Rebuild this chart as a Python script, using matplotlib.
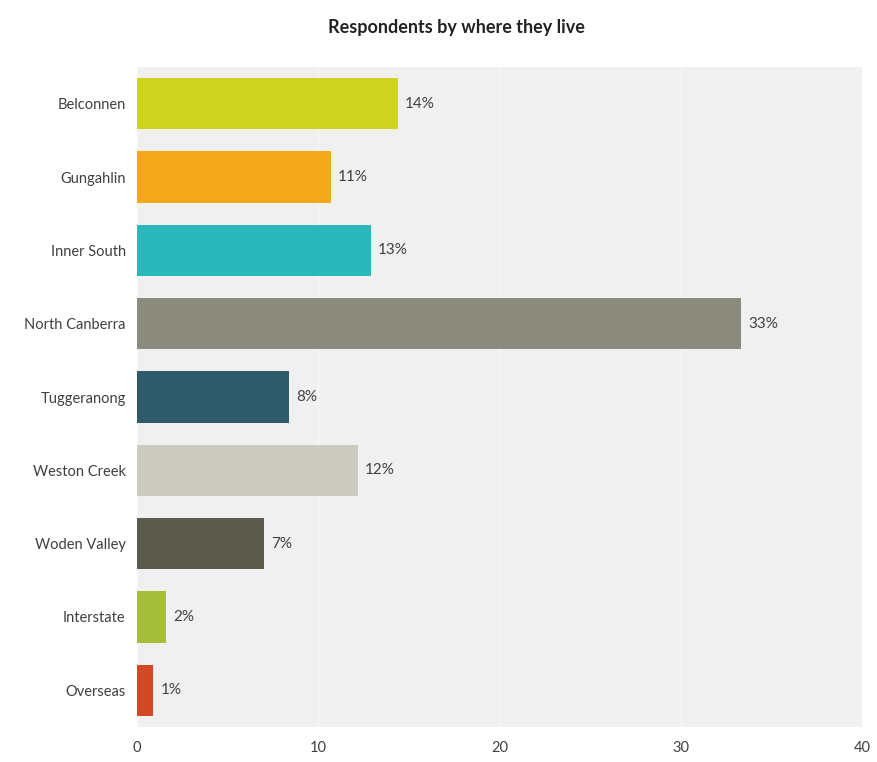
import matplotlib
matplotlib.use('Agg')
import matplotlib.pyplot as plt

plt.rcParams['font.family'] = ['Lato', 'DejaVu Sans']

# Data
regions = ['Belconnen', 'Gungahlin', 'Inner South', 'North Canberra', 'Tuggeranong',
           'Weston Creek', 'Woden Valley', 'Interstate', 'Overseas']
values = [14.4, 10.7, 12.9, 33.3, 8.4, 12.2, 7.0, 1.6, 0.9]
value_labels = ['14%', '11%', '13%', '33%', '8%', '12%', '7%', '2%', '1%']
colors = ['#cdd31f', '#f5a81c', '#2bb8bb', '#8a8b7c', '#2e5a6b',
          '#cdcbbf', '#5a5a4d', '#a5be3a', '#d24a25']

fig = plt.figure(figsize=(8.77, 7.62), dpi=100)
ax = fig.add_axes([0.156, 0.046, 0.827, 0.866])
ax.set_facecolor('#f0f0f0')

ypos = list(range(len(regions)))
ax.barh(ypos, values, height=0.7, color=colors, zorder=3)
for y, v, lab in zip(ypos, values, value_labels):
    ax.text(v + 0.4, y, lab, va='center', ha='left', fontsize=11, color='#404040', zorder=4)

ax.set_xlim(0, 40)
ax.set_ylim(len(regions) - 0.5, -0.5)
ax.set_yticks(ypos)
ax.set_yticklabels(regions, fontsize=10.5, color='#404040')
ax.set_xticks([0, 10, 20, 30, 40])
ax.tick_params(axis='both', length=0, colors='#404040', labelsize=10.5)
ax.tick_params(axis='x', pad=10)
ax.tick_params(axis='y', pad=8)
ax.xaxis.grid(True, color='#f8f8f8', linewidth=1.0, zorder=1)
for s in ax.spines.values():
    s.set_visible(False)

fig.suptitle('Respondents by where they live', x=0.52, y=0.975, fontsize=13,
             fontweight='bold', color='#222222')

fig.savefig('out.png', dpi=100, facecolor='white')
